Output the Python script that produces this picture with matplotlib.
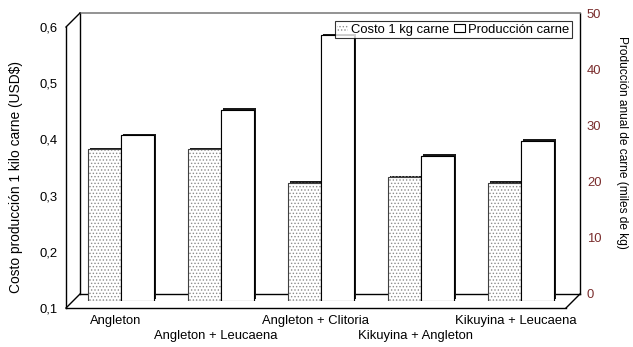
import matplotlib
matplotlib.use("Agg")
import matplotlib.pyplot as plt
import matplotlib.patheffects as pe
from matplotlib.lines import Line2D
from matplotlib.patches import Patch

plt.rcParams['font.family'] = ['Liberation Sans', 'DejaVu Sans']
plt.rcParams['hatch.linewidth'] = 0.6

# Data
sistemas = ["Angleton", "Angleton + Leucaena", "Angleton + Clitoria",
            "Kikuyina + Angleton", "Kikuyina + Leucaena"]
costo_kg = [0.37, 0.37, 0.31, 0.32, 0.31]          # USD$ por kg
produccion = [29.5, 34.0, 47.3, 25.8, 28.5]        # miles de kg
costo_ticks = [0.1, 0.2, 0.3, 0.4, 0.5, 0.6]
costo_labels = ["0,1", "0,2", "0,3", "0,4", "0,5", "0,6"]
prod_ticks = [0, 10, 20, 30, 40, 50]

W, H = 633, 347
FS = 9.4
DEPTH = 14  # px offset between front and back planes


def px_box(x0, y0, x1, y1):
    return [x0 / W, 1 - y1 / H, (x1 - x0) / W, (y1 - y0) / H]


fig = plt.figure(figsize=(W / 100, H / 100), dpi=100)

front = (66, 27, 566, 308)
back = (front[0] + DEPTH, front[1] - DEPTH, front[2] + DEPTH, front[3] - DEPTH)
mid = (front[0] + DEPTH // 2, front[1] - DEPTH // 2,
       front[2] + DEPTH // 2, front[3] - DEPTH // 2)
xlim = (-0.48, 4.52)

# back wall, carries the production scale on the right
ax_back = fig.add_axes(px_box(*back))
ax_back.set_xlim(*xlim)
ax_back.set_ylim(0, 50)
ax_back.set_xticks([])
ax_back.yaxis.tick_right()
ax_back.set_yticks(prod_ticks)
ax_back.tick_params(axis='y', length=0, pad=5, labelsize=FS, labelcolor='#7a2d2d')
for s in ['left', 'right', 'bottom']:
    ax_back.spines[s].set_color('black')
    ax_back.spines[s].set_linewidth(1.0)
ax_back.spines['top'].set_color('0.5')
ax_back.spines['top'].set_linewidth(1.2)
ax_back.patch.set_alpha(0)

# front plane, carries the cost scale and category labels
ax_front = fig.add_axes(px_box(*front))
ax_front.set_xlim(*xlim)
ax_front.set_ylim(0.1, 0.6)
ax_front.set_yticks(costo_ticks)
ax_front.set_yticklabels(costo_labels)
ax_front.set_xticks([])
ax_front.tick_params(axis='y', length=0, labelsize=FS, pad=6)
ax_front.spines['top'].set_visible(False)
ax_front.spines['right'].set_visible(False)
for s in ['left', 'bottom']:
    ax_front.spines[s].set_linewidth(1.0)
ax_front.patch.set_alpha(0)

# staggered category labels under the floor
for i, nombre in enumerate(sistemas):
    y_lab = -0.046 if i % 2 == 0 else -0.1
    ax_front.text(i + 0.02, y_lab, nombre, transform=ax_front.get_xaxis_transform(),
                  ha='center', va='center', fontsize=FS)

# bars sit halfway between the two planes
ax_cost = fig.add_axes(px_box(*mid))
ax_cost.set_xlim(*xlim)
ax_cost.set_ylim(0.1, 0.6)
ax_cost.axis('off')
ax_prod = fig.add_axes(px_box(*mid))
ax_prod.set_xlim(*xlim)
ax_prod.set_ylim(0, 50)
ax_prod.axis('off')

shadow = [pe.withSimplePatchShadow(offset=(1.1, 1.1), shadow_rgbFace='0.1', alpha=1.0),
          pe.Normal()]
x = list(range(len(sistemas)))
bw = 0.33
xc = [i - bw / 2 for i in x]
xp = [i + bw / 2 for i in x]

ax_cost.bar(xc, [c - 0.1 for c in costo_kg], bw, bottom=0.1, color='white',
            edgecolor='0.55', linewidth=0, hatch='.....', path_effects=shadow)
ax_cost.bar(xc, [c - 0.1 for c in costo_kg], bw, bottom=0.1, fill=False,
            edgecolor='0.25', linewidth=0.8)
ax_prod.bar(xp, produccion, bw, color='white', edgecolor='black',
            linewidth=0.8, path_effects=shadow)

# depth edges joining front and back planes
for (fx, fy) in [(front[0], front[1]), (front[0], front[3]), (front[2], front[3])]:
    fig.add_artist(Line2D([fx / W, (fx + DEPTH) / W],
                          [1 - fy / H, 1 - (fy - DEPTH) / H],
                          color='black', linewidth=1.0))

fig.text(16 / W, 1 - 177 / H, "Costo producción 1 kilo carne (USD$)",
         rotation=90, ha='center', va='center', fontsize=9.9)
fig.text(622 / W, 1 - 142 / H, "Producción anual de carne (miles de kg)",
         rotation=-90, ha='center', va='center', fontsize=8.6)

handles = [Patch(facecolor='white', edgecolor='0.55', hatch='.....', linewidth=0),
           Patch(facecolor='white', edgecolor='black', linewidth=0.8)]
leg = fig.legend(handles, ["Costo 1 kg carne", "Producción carne"], ncol=2,
                 loc='upper right', bbox_to_anchor=(572 / W, 1 - 21 / H),
                 fontsize=FS, frameon=True, fancybox=False, borderpad=0.2,
                 handlelength=0.8, handleheight=0.6, handletextpad=0.25,
                 columnspacing=0.4, borderaxespad=0)
leg.get_frame().set_edgecolor('black')
leg.get_frame().set_linewidth(0.8)

fig.savefig("out.png", dpi=100)
